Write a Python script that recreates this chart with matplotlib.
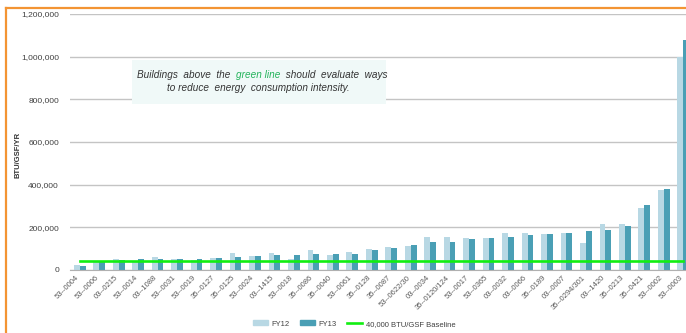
import numpy as np
import matplotlib
matplotlib.use("Agg")
import matplotlib.pyplot as plt
from matplotlib.lines import Line2D
from matplotlib.patches import Rectangle
from matplotlib.transforms import ScaledTranslation

buildings = ["53--0004", "53--0006", "03--0215", "53--0014", "03--1088", "53--0031",
             "53--0019", "35--0127", "35--0125", "53--0024", "03--1415", "53--0018",
             "35--0086", "35--0040", "53--0061", "35--0128", "35--0087", "53--0622/30",
             "03--0034", "35--0120/124", "53--0017", "53--0365", "03--0032", "03--0066",
             "35--0189", "03--0007", "35--0294/301", "03--1420", "35--0213", "35--0421",
             "53--0002", "53--0003"]
fy12 = [25000, 40000, 53000, 41000, 62000, 53000, 48000, 58000, 81000, 66000,
        81000, 53000, 95000, 72000, 86000, 100000, 109000, 114000, 153000, 156000,
        151000, 150000, 172000, 172000, 169000, 174000, 125000, 215000, 215000, 291000,
        373000, 1000000]
fy13 = [19000, 43000, 47000, 50000, 53000, 53000, 53000, 58000, 61000, 66000,
        72000, 72000, 77000, 77000, 77000, 95000, 105000, 119000, 133000, 133000,
        147000, 150000, 155000, 164000, 169000, 174000, 183000, 188000, 207000, 307000,
        382000, 1078000]
baseline = 40000
yticks = [0, 200000, 400000, 600000, 800000, 1000000, 1200000]

W, H = 686, 333
fig = plt.figure(figsize=(W / 100, H / 100), dpi=100)
plt.rcParams['font.family'] = ['Liberation Sans', 'DejaVu Sans']

# axes runs past the right edge, the original is cropped there
ax = fig.add_axes([70 / W, 63 / H, 623 / W, 256 / H])
x = np.arange(len(buildings))
w = 0.3
ax.bar(x - w / 2, fy12, w, color="#b8d8e4", label="FY12", zorder=2)
ax.bar(x + w / 2, fy13, w, color="#4a9fb5", label="FY13", zorder=2)
ax.plot(x, [baseline] * len(x), color="#11ee11", lw=1.9, zorder=3,
        label="40,000 BTU/GSF Baseline")

ax.set_xlim(-0.5, len(x) - 0.5)
ax.set_ylim(0, 1200000)
ax.set_yticks(yticks)
ax.set_yticklabels([f"{v:,}" for v in yticks], fontsize=6, color="#404040")
ax.yaxis.grid(True, color="#c4c4c4", lw=1)
ax.set_axisbelow(True)
for s in ["top", "right", "left"]:
    ax.spines[s].set_visible(False)
ax.spines["bottom"].set_color("#b0b0b0")
ax.tick_params(axis="y", length=0, pad=8)
ax.tick_params(axis="x", length=0, pad=3)
ax.set_xticks(x)
ax.set_xticklabels(buildings, rotation=45, ha="right", rotation_mode="anchor",
                   fontsize=5.5, color="#595959")
shift = ScaledTranslation(-4 / 100, 0, fig.dpi_scale_trans)
for lab in ax.get_xticklabels():
    lab.set_transform(lab.get_transform() + shift)
ax.set_ylabel("BTU/GSF/YR", fontsize=5.5, fontweight="bold", color="#333333")
ax.yaxis.set_label_coords((21 - 70) / 623, 0.45)

# note box
fig.patches.append(Rectangle((132 / W, 1 - 104 / H), 254 / W, 44 / H,
                             transform=fig.transFigure, facecolor="#f0f9f8",
                             edgecolor="none", zorder=5))
fs = 7.2
y1 = 1 - 75 / H
fig.text(137 / W, y1, "Buildings  above  the ", fontsize=fs, style="italic",
         color="#333333", va="center", zorder=6)
fig.text(236 / W, y1, "green line", fontsize=fs, style="italic",
         color="#22b35a", va="center", zorder=6)
fig.text(283 / W, y1, " should  evaluate  ways", fontsize=fs, style="italic",
         color="#333333", va="center", zorder=6)
fig.text(258 / W, 1 - 88 / H, "to reduce  energy  consumption intensity.", fontsize=fs,
         style="italic", color="#333333", va="center", ha="center", zorder=6)

handles = [Rectangle((0, 0), 1, 1, color="#b8d8e4"),
           Rectangle((0, 0), 1, 1, color="#4a9fb5"),
           Line2D([0], [0], color="#11ee11", lw=1.9)]
fig.legend(handles, ["FY12", "FY13", "40,000 BTU/GSF Baseline"], loc="center",
           bbox_to_anchor=(354 / W, 1 - 324 / H), ncol=3, frameon=False, fontsize=5.5,
           handlelength=2.0, handleheight=0.6, columnspacing=1.4, handletextpad=0.4,
           labelcolor="#404040")

# orange frame on left and top
fig.add_artist(Line2D([6 / W, 6 / W], [0, 1 - 8 / H], transform=fig.transFigure,
                      color="#f39433", lw=1.6))
fig.add_artist(Line2D([6 / W, 1], [1 - 8 / H, 1 - 8 / H], transform=fig.transFigure,
                      color="#f39433", lw=1.6))

fig.savefig("out.png", dpi=100)
